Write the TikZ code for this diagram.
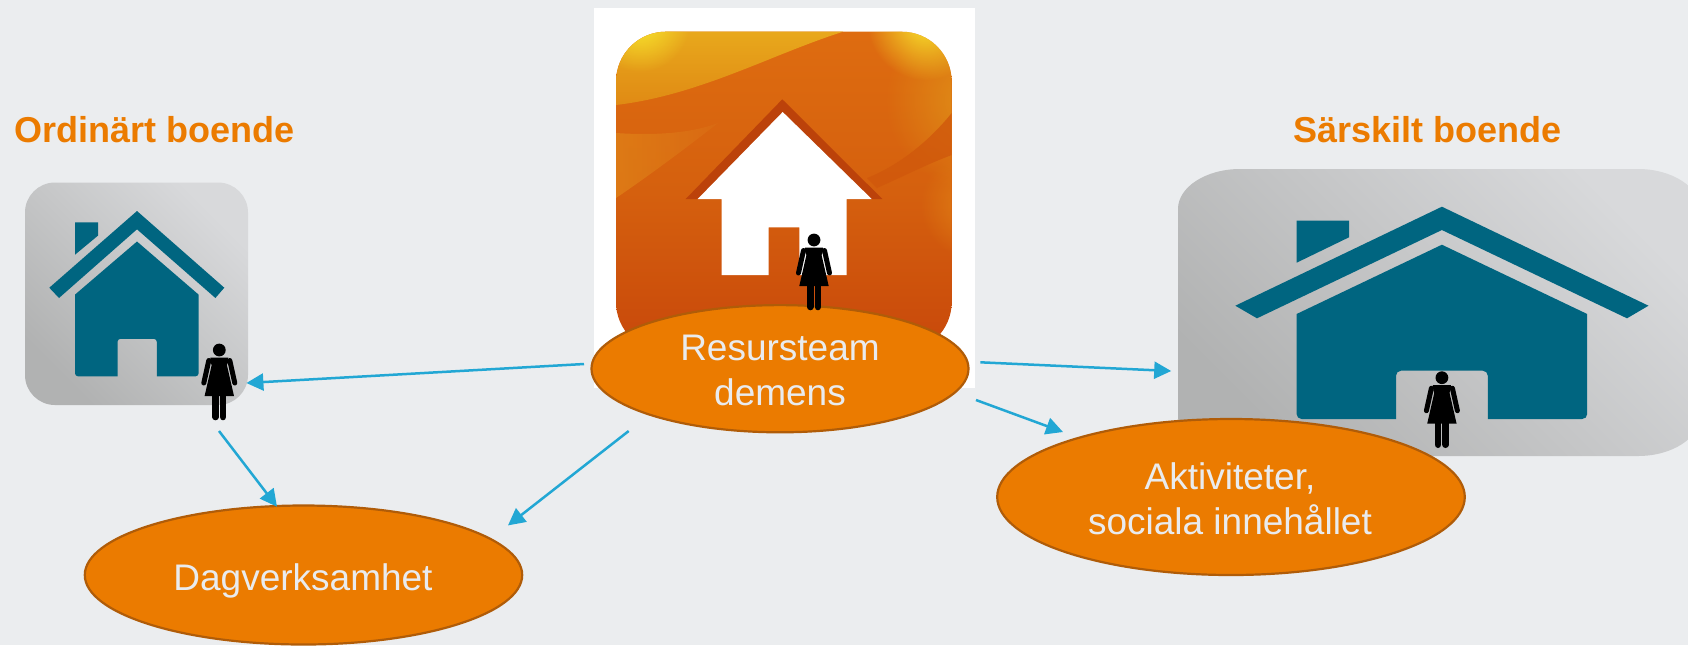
\documentclass[tikz,border=0pt]{standalone}
\usepackage{fontspec}
\setmainfont{Liberation Sans}
\usetikzlibrary{arrows.meta,shapes.geometric,fadings}
\definecolor{bgcol}{HTML}{EBEDEF}
\definecolor{orangecol}{HTML}{EB7B00}
\definecolor{ringcol}{HTML}{B05C08}
\definecolor{tealcol}{HTML}{006580}
\definecolor{arrowcol}{HTML}{22A7D4}
\definecolor{lightcol}{HTML}{E9EBEE}
\definecolor{grayhi}{HTML}{D8D9DB}
\definecolor{graylo}{HTML}{B1B2B2}
\definecolor{iconhi}{HTML}{DE6C10}
\definecolor{iconmid}{HTML}{D5600E}
\definecolor{iconlow}{HTML}{C8480B}
\definecolor{iconband}{HTML}{D0580C}
\definecolor{icongold}{HTML}{E8A81C}
\definecolor{iconamber}{HTML}{E08A14}
\definecolor{iconedge}{HTML}{E09018}
\definecolor{iconside}{HTML}{E08015}
\definecolor{iconsun}{HTML}{F8E52C}
\definecolor{sweepa}{HTML}{E08218}
\definecolor{sweepb}{HTML}{DA6C14}
\definecolor{roofdark}{HTML}{BC420A}
\tikzfading[name=softspot,inner color=transparent!0,outer color=transparent!100]
\tikzset{
  x=0.5pt,y=-0.5pt,
  blob/.style={ellipse,draw=ringcol,line width=1.1pt,fill=orangecol,inner sep=0pt,outer sep=0pt},
  blobtext/.style={text=lightcol,inner sep=0pt,outer sep=0pt,align=center,font=\fontsize{18.5}{22.5}\selectfont},
  heading/.style={text=orangecol,inner sep=0pt,outer sep=0pt,anchor=base west,font=\bfseries\fontsize{18}{22}\selectfont},
  link/.style={draw=arrowcol,line width=1.25pt,-{Triangle[length=8.5pt,width=8.5pt]}},
  graypanel/.style={shading=axis,top color=grayhi,bottom color=graylo,shading angle=-45},
  pics/womanfig/.style={code={
    \fill[black] (0,0) circle[radius=6.4];
    \fill[black] (-9,7.5) -- (9,7.5) -- (8.5,13) -- (7.6,15) -- (14.7,46) -- (-14.7,46) -- (-7.6,15) -- (-8.5,13) -- cycle;
    \draw[black,line width=2.5pt,line cap=round] (10.5,10.5) -- (15.5,33);
    \draw[black,line width=2.5pt,line cap=round] (-10.5,10.5) -- (-15.5,33);
    \draw[black,line width=3.3pt,line cap=round] (-3.8,46) -- (-3.8,67);
    \draw[black,line width=3.3pt,line cap=round] (3.8,46) -- (3.8,67);
  }}
}
\begin{document}
\begin{tikzpicture}
\useasboundingbox (0,0) rectangle (1688,645);
\clip (0,0) rectangle (1688,645);
\fill[bgcol] (0,0) rectangle (1688,645);

% left panel
\shade[graypanel,rounded corners=15pt] (25,182.5) rectangle (248,405);
\fill[tealcol] (75,222.3) -- (98,222.3) -- (98,235.6) -- (75,254.7) -- cycle;
\fill[tealcol] (137,211) -- (224.3,287.7) -- (215.4,298) -- (137,229.3) -- (59,298) -- (49.3,287.7) -- cycle;
\fill[tealcol] (137,241.5) -- (198.6,294.6) [rounded corners=1.5pt] -- (198.6,376.3) [sharp corners] -- (156.8,376.3)
  [rounded corners=1.5pt] -- (156.8,338.8) -- (117.5,338.8) [sharp corners] -- (117.5,376.3)
  [rounded corners=1.5pt] -- (75,376.3) [sharp corners] -- (75,294.6) -- cycle;

% right panel
\shade[graypanel] (1240,169) -- (1638,169) .. controls (1672,169) and (1700,187) .. (1700,209)
  -- (1700,416) .. controls (1700,438) and (1672,456) .. (1638,456) -- (1240,456)
  .. controls (1206,456) and (1178,438) .. (1178,416) -- (1178,209)
  .. controls (1178,187) and (1206,169) .. (1240,169) -- cycle;
\fill[tealcol] (1296.6,220.7) -- (1349,220.7) -- (1349,237.3) -- (1296.6,262.7) -- cycle;
\fill[tealcol] (1441.9,206.7) -- (1648.5,305.7) -- (1627,318.3) -- (1441.9,230) -- (1257,318.3) -- (1235.3,305.7) -- cycle;
\fill[tealcol] (1441.9,244.7) -- (1587.2,314) [rounded corners=2.5pt] -- (1587.2,419) [sharp corners] -- (1487.8,419)
  [rounded corners=2.5pt] -- (1487.8,370.7) -- (1396,370.7) [sharp corners] -- (1396,419)
  [rounded corners=2.5pt] -- (1296.6,419) [sharp corners] -- (1296.6,314) -- cycle;

% centre picture
\fill[white] (594,8) rectangle (975,387.7);
\begin{scope}
  \clip[rounded corners=25pt] (616,31.7) rectangle (951.7,352);
  \shade[top color=iconhi,bottom color=iconlow,middle color=iconmid] (616,31.7) rectangle (951.7,352);
  \fill[iconedge,path fading=softspot] (975,100) circle[radius=90];
  \fill[iconside,path fading=softspot] (975,205) circle[radius=55];
  \shade[top color=icongold,bottom color=iconamber]
     (616,31.7) -- (843,31.7) .. controls (770,55) and (700,95) .. (616,105) -- cycle;
  \fill[iconsun,path fading=softspot] (640,22) circle[radius=50];
  \fill[iconsun,path fading=softspot] (925,22) circle[radius=58];
  \fill[iconband,opacity=0.8] (867,178) .. controls (900,165) and (930,140) .. (951.7,113) -- (951.7,155) .. controls (925,165) and (900,178) .. (877,188) -- cycle;
  \shade[left color=sweepa,right color=sweepb,opacity=0.75] (616,133) .. controls (660,136) and (695,132) .. (718,123) .. controls (690,145) and (650,175) .. (616,198) -- cycle;
\end{scope}
\fill[roofdark] (782.3,99.3) -- (882.3,199) -- (685.7,199) -- cycle;
\fill[white] (782.7,112) -- (871.7,199) -- (846.7,199) -- (846.7,275) -- (799.3,275) -- (799.3,227.3)
  -- (768.7,227.3) -- (768.7,275) -- (721.7,275) -- (721.7,199) -- (697.7,199) -- cycle;

% ovals
\node[blob,minimum width=188.5pt,minimum height=63.6pt] (team) at (780,368.7) {};
\node[blobtext] (teamtext) at (780,370.2) {Resursteam\\demens};
\node[blob,minimum width=218.7pt,minimum height=69.5pt] (dag) at (303.5,575) {};
\node[blobtext] (dagtext) at (303,581) {Dagverksamhet};
\node[blob,minimum width=233.8pt,minimum height=78pt] (akt) at (1231,497) {};
\node[blobtext] (akttext) at (1230,498.5) {Aktiviteter,\\sociala innehållet};

% figures
\pic (womanL) at (219.3,350) {womanfig};
\pic (womanC) at (814,240) {womanfig};
\pic (womanR) at (1441.9,377.7) {womanfig};

% headings
\node[heading] (ord) at (14.3,142.7) {Ordinärt boende};
\node[heading] (sar) at (1293,142.7) {Särskilt boende};

% connectors
\coordinate (a1s) at (584,364);   \coordinate (a1e) at (246.4,383);
\coordinate (a2s) at (219,431);   \coordinate (a2e) at (277,506.7);
\coordinate (a3s) at (628.7,431); \coordinate (a3e) at (508,525.4);
\coordinate (a4s) at (980.4,362.3); \coordinate (a4e) at (1171.2,371);
\coordinate (a5s) at (976,400);   \coordinate (a5e) at (1063,432);
\draw[link] (a1s) -- (a1e);
\draw[link] (a2s) -- (a2e);
\draw[link] (a3s) -- (a3e);
\draw[link] (a4s) -- (a4e);
\draw[link] (a5s) -- (a5e);
\end{tikzpicture}
\end{document}
